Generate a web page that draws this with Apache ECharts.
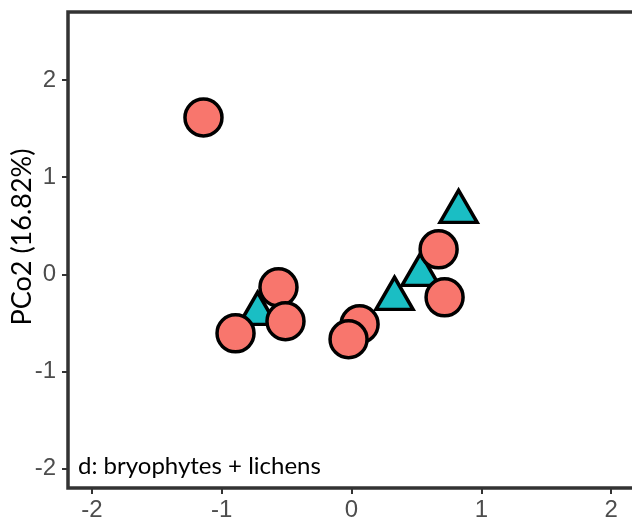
<!DOCTYPE html>
<html>
<head>
<meta charset="utf-8">
<script src="https://cdn.jsdelivr.net/npm/echarts@6/dist/echarts.min.js"></script>
<style>
html,body{margin:0;padding:0;background:#fff;}
#c{width:632px;height:521px;}
</style>
</head>
<body>
<div id="c"></div>
<script>
// PCo1 / PCo2 coordinates
const bryophytes = [
  [-1.141, 1.614],
  [-0.563, -0.134],
  [-0.509, -0.483],
  [-0.894, -0.607],
  [0.062, -0.514],
  [-0.023, -0.668],
  [0.671, 0.257],
  [0.717, -0.237]
];
const lichens = [
  [-0.724, -0.401],
  [0.331, -0.247],
  [0.532, 0.0],
  [0.825, 0.648]
];
const xTicks = [-2, -1, 0, 1, 2];
const yTicks = [-2, -1, 0, 1, 2];
const yTitle = 'PCo2 (16.82%)';
const panelLabel = 'd: bryophytes + lichens';

const chart = echarts.init(document.getElementById('c'));
const axisCommon = {
  splitLine: {show: false},
  axisLine: {show: false, onZero: false},
  axisTick: {show: true, length: 6, lineStyle: {color: '#333333', width: 2}},
  axisLabel: {color: '#4D4D4D', fontSize: 24, fontFamily: 'Liberation Sans'}
};
chart.setOption({
  animation: false,
  backgroundColor: '#ffffff',
  grid: {left: 68, top: 12, bottom: 33, right: -18, show: true,
         outerBoundsMode: 'none', containLabel: false,
         borderColor: '#333333', borderWidth: 3.5, backgroundColor: 'transparent'},
  xAxis: Object.assign({}, axisCommon, {
    type: 'value', min: -2.185, max: 2.3, position: 'bottom',
    axisTick: Object.assign({}, axisCommon.axisTick, {customValues: xTicks}),
    axisLabel: Object.assign({}, axisCommon.axisLabel, {customValues: xTicks, margin: 10})
  }),
  yAxis: Object.assign({}, axisCommon, {
    type: 'value', min: -2.199, max: 2.70, position: 'left',
    axisTick: Object.assign({}, axisCommon.axisTick, {customValues: yTicks}),
    axisLabel: Object.assign({}, axisCommon.axisLabel, {customValues: yTicks, margin: 12})
  }),
  graphic: [
    {type: 'text', left: 78, top: 454, z: 100,
     style: {text: panelLabel, fill: '#000', font: '24px Lato'}},
    {type: 'text', x: 22, y: 237, rotation: Math.PI / 2, z: 100,
     style: {text: yTitle, fill: '#000', font: '27px Lato', align: 'center', verticalAlign: 'middle'}}
  ],
  series: [
    {type: 'scatter', data: lichens, symbol: 'triangle', symbolSize: [37, 32],
     symbolOffset: [0, -5],
     itemStyle: {color: '#1ABEC4', borderColor: '#000', borderWidth: 3.5, opacity: 1}},
    {type: 'scatter', data: bryophytes, symbol: 'circle', symbolSize: 37,
     itemStyle: {color: '#F8766D', borderColor: '#000', borderWidth: 3.5, opacity: 1}}
  ]
});
</script>
</body>
</html>
